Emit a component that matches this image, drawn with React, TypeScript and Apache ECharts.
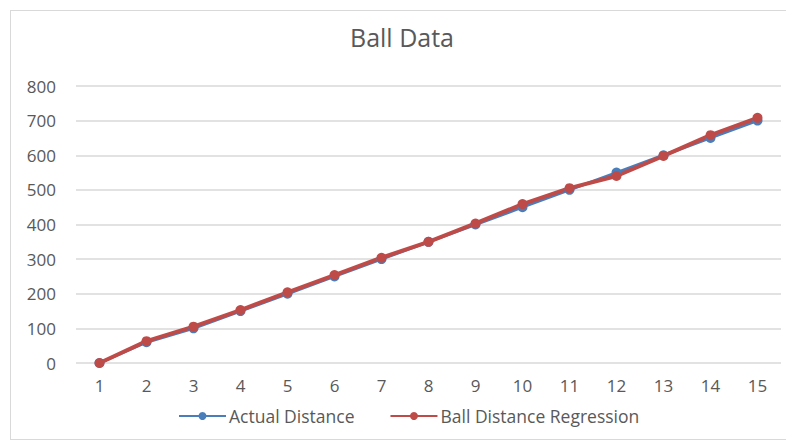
import React, { useEffect, useRef } from "react";
import * as echarts from "echarts";

const categories = ["1", "2", "3", "4", "5", "6", "7", "8", "9", "10", "11", "12", "13", "14", "15"];
const actualDistance = [0, 60, 100, 150, 200, 250, 300, 350, 400, 450, 500, 550, 600, 650, 700];
const regression = [0, 63, 105, 153, 204, 254, 304, 350, 403, 459, 505, 540, 598, 658, 708];

export default function App() {
  const ref = useRef<HTMLDivElement>(null);
  useEffect(() => {
    if (!ref.current) return;
    const chart = echarts.init(ref.current, null, { renderer: "svg" });
    const font = "'Open Sans', 'Noto Sans', sans-serif";
    chart.setOption({
      animation: false,
      backgroundColor: "#ffffff",
      title: {
        text: "Ball Data",
        left: "center",
        top: 8,
        textStyle: { color: "#595959", fontSize: 25, fontWeight: "normal", fontFamily: font, lineHeight: 25 },
      },
      grid: { left: 65, right: 12, top: 75, bottom: 76 },
      legend: {
        top: 390,
        left: 162,
        itemWidth: 47,
        itemHeight: 10,
        itemGap: 35,
        textStyle: { color: "#595959", fontSize: 17.5, fontFamily: font, lineHeight: 20, padding: [0, 0, 0, -2] },
        data: ["Actual Distance", "Ball Distance Regression"],
      },
      xAxis: {
        type: "category",
        data: categories,
        boundaryGap: true,
        axisLine: { show: false },
        axisTick: { show: false },
        axisLabel: { color: "#595959", fontSize: 17, fontFamily: font, margin: 14 },
      },
      yAxis: {
        type: "value",
        min: 0,
        max: 800,
        interval: 100,
        axisLine: { show: false },
        axisTick: { show: false },
        splitLine: { lineStyle: { color: "#d9d9d9", width: 1.5 } },
        axisLabel: { color: "#595959", fontSize: 17, fontFamily: font, margin: 20 },
      },
      series: [
        {
          name: "Actual Distance",
          type: "line",
          data: actualDistance,
          symbol: "circle",
          symbolSize: 10,
          color: "#4a7ebb",
          lineStyle: { width: 3, color: "#4a7ebb" },
          itemStyle: { color: "#4a7ebb" },
        },
        {
          name: "Ball Distance Regression",
          type: "line",
          data: regression,
          symbol: "circle",
          symbolSize: 10,
          color: "#be4b48",
          lineStyle: { width: 4, color: "#be4b48" },
          itemStyle: { color: "#be4b48" },
        },
      ],
    });
    return () => chart.dispose();
  }, []);
  return (
    <div
      style={{
        width: 784,
        height: 430,
        marginLeft: 2,
        marginTop: 2,
        border: "1px solid #d9d9d9",
        boxSizing: "border-box",
      }}
    >
      <div ref={ref} style={{ width: 782, height: 428 }} />
    </div>
  );
}
